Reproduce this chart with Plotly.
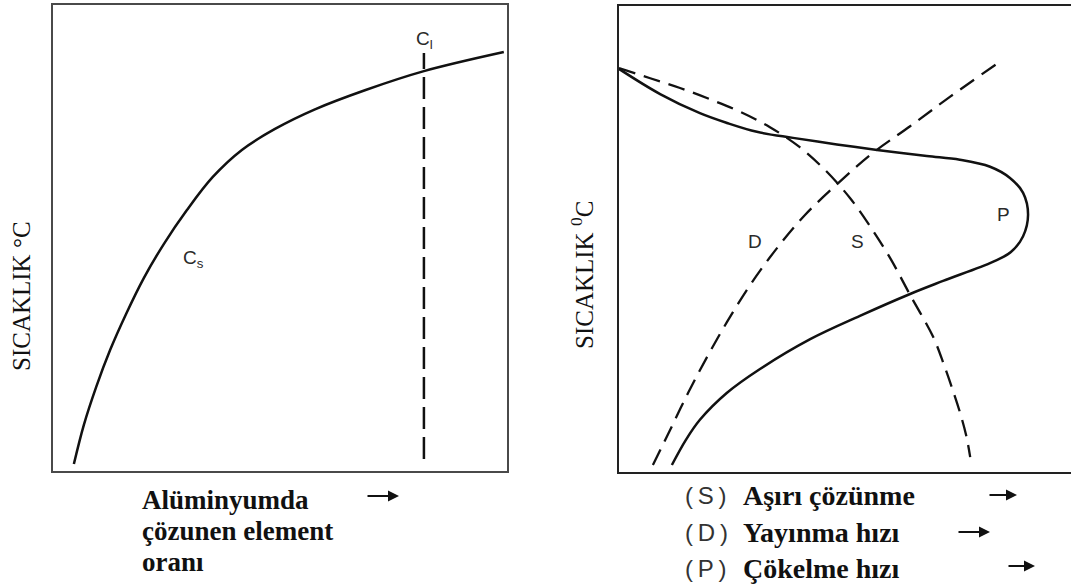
import plotly.graph_objects as go

W, H = 1071, 587

# ---- Left panel: solubility limit of the solute in aluminium ----
cs_x = [4.6, 6.8, 9.5, 12.6, 16.1, 20.0, 24.4, 29.5, 35.2, 41.6, 48.9, 57.7, 68.7, 81.7, 99.3]
cs_y = [1.5, 9.9, 18.0, 26.0, 33.7, 41.4, 48.7, 56.0, 63.1, 68.9, 73.4, 77.6, 81.7, 85.8, 89.9]
cl_x = [81.7, 81.7]
cl_y = [2.6, 89.7]

# ---- Right panel: supersaturation (S), diffusion rate (D), precipitation rate (P) ----
s_x = [0.0, 6.9, 13.5, 20.1, 26.8, 33.4, 40.0, 45.6, 51.1, 55.5, 60.0, 64.4,
       69.5, 71.9, 73.7, 75.4, 76.8, 77.7]
s_y = [86.7, 84.5, 82.4, 80.0, 77.3, 74.0, 69.7, 64.8, 58.8, 52.8, 45.9, 38.0,
       29.0, 23.0, 18.0, 12.9, 7.9, 3.2]

d_x = [7.5, 11.3, 15.3, 19.5, 23.9, 29.0, 35.0, 41.2, 48.5, 56.2, 64.4, 73.2, 83.6]
d_y = [1.5, 9.0, 17.0, 24.7, 32.2, 40.1, 48.1, 55.2, 62.0, 68.5, 74.2, 80.5, 87.6]

p_x = [11.7, 14.8, 17.9, 23.9, 31.2, 42.3, 53.3, 64.4, 71.7, 82.7, 86.7, 89.4, 90.5,
       89.4, 86.5, 82.1, 75.4, 68.1, 57.1, 48.2, 38.5, 30.5, 23.9, 17.9, 9.1, 0.0]
p_y = [1.5, 6.9, 11.2, 17.0, 22.1, 28.5, 33.5, 38.2, 41.0, 45.1, 47.2, 50.6, 55.2,
       59.9, 63.1, 65.5, 67.0, 67.8, 69.1, 70.3, 71.7, 73.0, 74.9, 77.0, 81.1, 86.5]

left_xlabel = ["Alüminyumda", "çözunen element", "oranı"]
right_legend = [("(\u2009S\u2009)", "Aşırı çözünme"),
                ("(\u2009D\u2009)", "Yayınma hızı"),
                ("(\u2009P\u2009)", "Çökelme hızı")]

INK = "#111111"
SERIF = "Liberation Serif, Times New Roman, serif"
SANS = "Liberation Sans, Arial, sans-serif"


def px(x):
    return x / W


def py(y):
    return 1 - y / H


fig = go.Figure()

fig.add_trace(go.Scatter(x=cs_x, y=cs_y, mode="lines", xaxis="x", yaxis="y",
                         line=dict(color=INK, width=2.5, shape="spline", smoothing=1.0),
                         showlegend=False, hoverinfo="skip"))
fig.add_trace(go.Scatter(x=cl_x, y=cl_y, mode="lines", xaxis="x", yaxis="y",
                         line=dict(color=INK, width=2.5, dash="22px,8px"),
                         showlegend=False, hoverinfo="skip"))

dash_r = "17px,9px"
fig.add_trace(go.Scatter(x=s_x, y=s_y, mode="lines", xaxis="x2", yaxis="y2",
                         line=dict(color=INK, width=2.3, dash=dash_r, shape="spline", smoothing=1.0),
                         showlegend=False, hoverinfo="skip"))
fig.add_trace(go.Scatter(x=d_x, y=d_y, mode="lines", xaxis="x2", yaxis="y2",
                         line=dict(color=INK, width=2.3, dash=dash_r, shape="spline", smoothing=1.0),
                         showlegend=False, hoverinfo="skip"))
fig.add_trace(go.Scatter(x=p_x, y=p_y, mode="lines", xaxis="x2", yaxis="y2",
                         line=dict(color=INK, width=2.5, shape="spline", smoothing=1.0),
                         showlegend=False, hoverinfo="skip"))

ax_common = dict(range=[0, 100], showgrid=False, zeroline=False, showticklabels=False,
                 ticks="", showline=True, fixedrange=True)

fig.update_layout(
    width=W, height=H,
    margin=dict(l=0, r=0, t=0, b=0),
    paper_bgcolor="white", plot_bgcolor="white",
    xaxis=dict(domain=[px(53), px(507)], anchor="y", mirror=True,
               linecolor="#4a4a4a", linewidth=2, **ax_common),
    yaxis=dict(domain=[py(471), py(5)], anchor="x", mirror=True,
               linecolor="#4a4a4a", linewidth=2, **ax_common),
    xaxis2=dict(domain=[px(619), 1.0], anchor="y2", mirror=True,
                linecolor="#222222", linewidth=2, **ax_common),
    yaxis2=dict(domain=[py(472), py(6)], anchor="x2", mirror=False,
                linecolor="#222222", linewidth=2, **ax_common),
)

ann = []

# curve labels
lab_font = dict(family=SANS, size=19, color="#2a2a2a")
ann.append(dict(x=31.0, y=45.5, xref="x", yref="y", text="C<sub>s</sub>",
                showarrow=False, font=lab_font))
ann.append(dict(x=81.9, y=92.5, xref="x", yref="y", text="C<sub>l</sub>",
                showarrow=False, font=lab_font))
ann.append(dict(x=30.1, y=49.4, xref="x2", yref="y2", text="D", showarrow=False, font=lab_font))
ann.append(dict(x=52.7, y=49.4, xref="x2", yref="y2", text="S", showarrow=False, font=lab_font))
ann.append(dict(x=85.0, y=55.2, xref="x2", yref="y2", text="P", showarrow=False, font=lab_font))

# y-axis titles
ann.append(dict(x=px(22), y=py(296), xref="paper", yref="paper", text="SICAKLIK °C",
                textangle=-90, showarrow=False, xanchor="center", yanchor="middle",
                font=dict(family=SERIF, size=25, color=INK)))
ann.append(dict(x=px(582), y=py(275), xref="paper", yref="paper",
                text="SICAKLIK <sup>0</sup>C",
                textangle=-90, showarrow=False, xanchor="center", yanchor="middle",
                font=dict(family=SERIF, size=25, color=INK)))

# left x-axis title
for line, yy in zip(left_xlabel, [500, 531, 562]):
    ann.append(dict(x=px(140), y=py(yy), xref="paper", yref="paper", text=line,
                    showarrow=False, xanchor="left", yanchor="middle",
                    font=dict(family=SERIF, size=27, color=INK, weight="bold")))

# right legend lines
for (code, name), yy in zip(right_legend, [495, 532, 568]):
    ann.append(dict(x=px(683), y=py(yy), xref="paper", yref="paper", text=code,
                    showarrow=False, xanchor="left", yanchor="middle",
                    font=dict(family=SANS, size=24, color="#333333")))
    ann.append(dict(x=px(741), y=py(yy), xref="paper", yref="paper", text=name,
                    showarrow=False, xanchor="left", yanchor="middle",
                    font=dict(family=SERIF, size=28, color=INK, weight="bold")))

# direction arrows
arrows = [(366, 399, 496), (988, 1017, 495), (957, 990, 532), (1007, 1035, 566)]
for x0, x1, yy in arrows:
    ann.append(dict(x=px(x1), y=py(yy), xref="paper", yref="paper", text="",
                    showarrow=True, ax=x0 - x1, ay=0, arrowhead=2, arrowsize=1.1,
                    arrowwidth=2, arrowcolor=INK))

fig.update_layout(annotations=ann)

fig.write_html("out.html")
